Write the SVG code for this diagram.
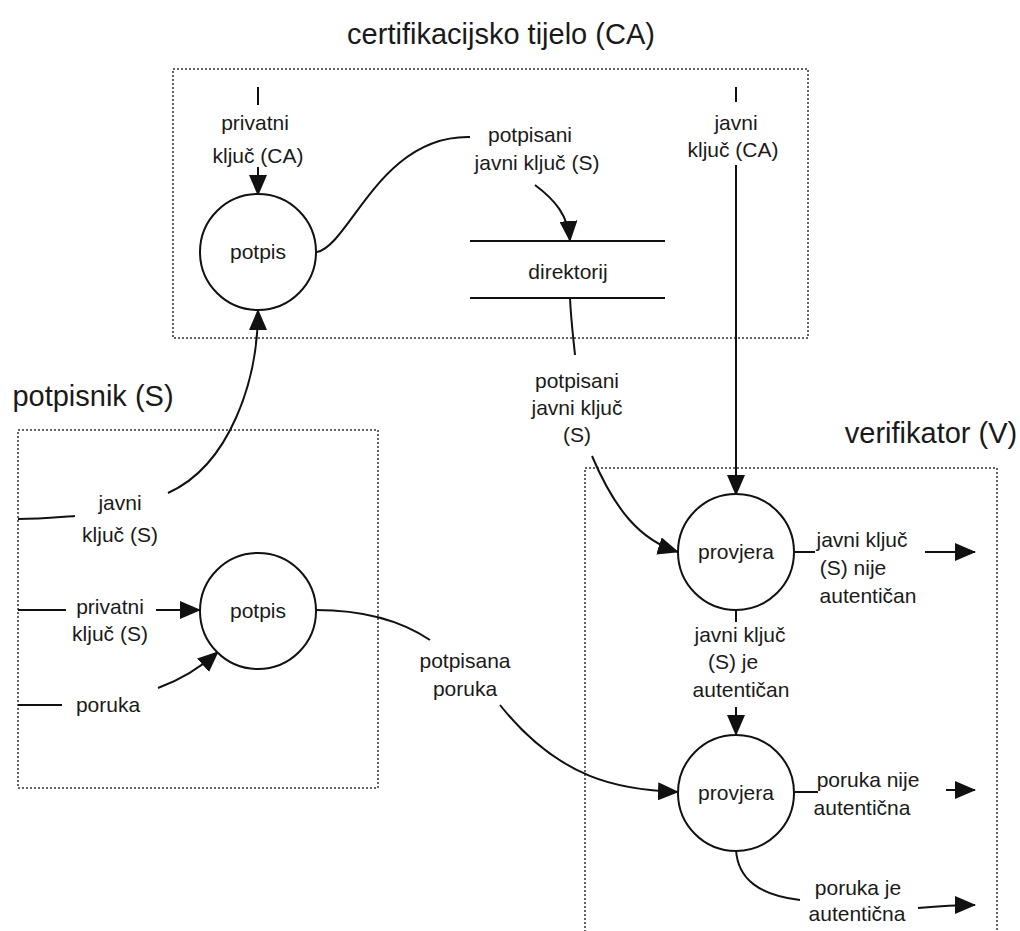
<svg xmlns="http://www.w3.org/2000/svg" width="1020" height="931" viewBox="0 0 1020 931">
<style>
.t{font-family:"Liberation Sans",Arial,sans-serif;font-size:21px;fill:#1a1a1a;text-anchor:middle}
.h{font-family:"Liberation Sans",Arial,sans-serif;font-size:29px;fill:#1a1a1a;text-anchor:middle}
.box{fill:none;stroke:#333;stroke-width:1.5;stroke-dasharray:2 2}
.c{fill:#fff;stroke:#111;stroke-width:2}
.l{fill:none;stroke:#111;stroke-width:2}
</style>
<defs>
<marker id="a" markerWidth="21" markerHeight="18" refX="20" refY="9" orient="auto" markerUnits="userSpaceOnUse">
<path d="M0,0 L21,9 L0,18 Z" fill="#111"/>
</marker>
</defs>
<rect width="1020" height="931" fill="#fff"/>
<text class="h" x="501" y="44">certifikacijsko tijelo (CA)</text>
<text class="h" x="93" y="406">potpisnik (S)</text>
<text class="h" x="931" y="443">verifikator (V)</text>
<rect class="box" x="173" y="69" width="635" height="269"/>
<rect class="box" x="18" y="430" width="360" height="358"/>
<rect class="box" x="585" y="468" width="412" height="470"/>
<g id="connectors">
<line class="l" x1="258" y1="87" x2="258" y2="105"/>
<line class="l" x1="258" y1="167" x2="258" y2="195" marker-end="url(#a)"/>
<path class="l" d="M317,252 C350,245 380,135 470,137"/>
<path class="l" d="M535,185 C555,200 568,215 570,241" marker-end="url(#a)"/>
<path class="l" d="M570,298 C571,320 573,335 575,355"/>
<path class="l" d="M592,456 C615,510 640,540 678,552" marker-end="url(#a)"/>
<line class="l" x1="736" y1="87" x2="736" y2="102"/>
<line class="l" x1="736" y1="165" x2="736" y2="495" marker-end="url(#a)"/>
<path class="l" d="M18,519 C40,519 60,517 75,516"/>
<path class="l" d="M168,493 C230,465 258,380 258,310" marker-end="url(#a)"/>
<line class="l" x1="18" y1="610" x2="66" y2="610"/>
<line class="l" x1="156" y1="610" x2="200" y2="610" marker-end="url(#a)"/>
<line class="l" x1="18" y1="705" x2="62" y2="705"/>
<path class="l" d="M158,688 C180,680 200,668 218,652" marker-end="url(#a)"/>
<path class="l" d="M316,610 C360,610 400,620 430,640"/>
<path class="l" d="M500,705 C560,780 620,790 678,792" marker-end="url(#a)"/>
<line class="l" x1="795" y1="552" x2="815" y2="552"/>
<line class="l" x1="925" y1="552" x2="975" y2="552" marker-end="url(#a)"/>
<line class="l" x1="736" y1="610" x2="736" y2="622"/>
<line class="l" x1="736" y1="707" x2="736" y2="735" marker-end="url(#a)"/>
<line class="l" x1="795" y1="792" x2="818" y2="792"/>
<line class="l" x1="946" y1="790" x2="975" y2="790" marker-end="url(#a)"/>
<path class="l" d="M736,850 C738,880 760,895 800,900"/>
<path class="l" d="M918,908 C940,906 955,905 975,905" marker-end="url(#a)"/>
</g>
<g id="ca-potpis"><ellipse class="c" cx="258" cy="252" rx="58" ry="58"/><text class="t" x="258" y="259">potpis</text></g>
<g id="direktorij">
<line class="l" x1="470" y1="241" x2="665" y2="241"/>
<line class="l" x1="470" y1="298" x2="665" y2="298"/>
<text class="t" x="568" y="279">direktorij</text>
</g>
<g id="s-potpis"><ellipse class="c" cx="258" cy="611" rx="58" ry="58"/><text class="t" x="258" y="618">potpis</text></g>
<g id="provjera1"><ellipse class="c" cx="736" cy="552" rx="58" ry="58"/><text class="t" x="736" y="559">provjera</text></g>
<g id="provjera2"><ellipse class="c" cx="736" cy="793" rx="58" ry="58"/><text class="t" x="736" y="800">provjera</text></g>
<g id="labels">
<text class="t" x="255" y="130">privatni</text>
<text class="t" x="258" y="163">ključ (CA)</text>
<text class="t" x="530" y="142">potpisani</text>
<text class="t" x="537" y="170">javni ključ (S)</text>
<text class="t" x="736" y="130">javni</text>
<text class="t" x="733" y="157">ključ (CA)</text>
<text class="t" x="577" y="388">potpisani</text>
<text class="t" x="577" y="415">javni ključ</text>
<text class="t" x="577" y="442">(S)</text>
<text class="t" x="120" y="510">javni</text>
<text class="t" x="120" y="542">ključ (S)</text>
<text class="t" x="110" y="614">privatni</text>
<text class="t" x="110" y="641">ključ (S)</text>
<text class="t" x="108" y="712">poruka</text>
<text class="t" x="465" y="668">potpisana</text>
<text class="t" x="465" y="696">poruka</text>
<text class="t" x="862" y="547">javni ključ</text>
<text class="t" x="853" y="575">(S) nije</text>
<text class="t" x="868" y="603">autentičan</text>
<text class="t" x="740" y="642">javni ključ</text>
<text class="t" x="733" y="669">(S) je</text>
<text class="t" x="741" y="697">autentičan</text>
<text class="t" x="868" y="787">poruka nije</text>
<text class="t" x="862" y="815">autentična</text>
<text class="t" x="858" y="895">poruka je</text>
<text class="t" x="857" y="921">autentična</text>
</g>
</svg>
